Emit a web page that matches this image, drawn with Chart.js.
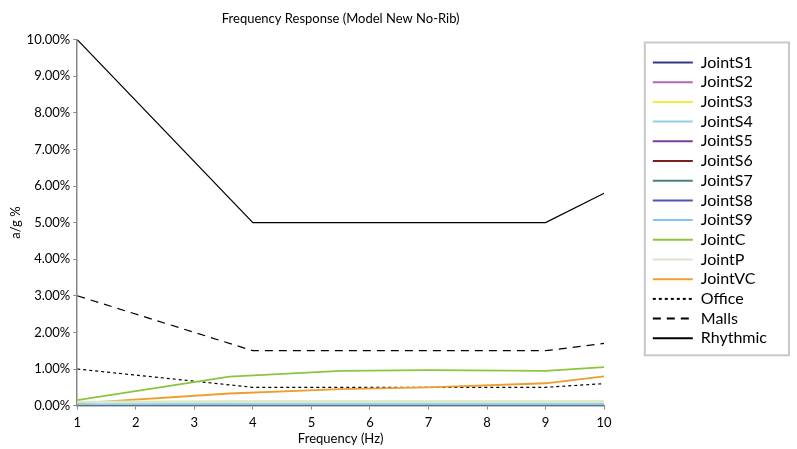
<!DOCTYPE html>
<html>
<head>
<meta charset="utf-8">
<script src="https://cdn.jsdelivr.net/npm/chart.js@4"></script>
<style>
  html, body { margin: 0; padding: 0; background: #fff; }
  #wrap { width: 797px; height: 449px; }
</style>
</head>
<body>
<div id="wrap"><canvas id="freqChart" width="797" height="449"></canvas></div>
<script>
// trend lines (Office / Malls / Rhythmic)
const trendFreq = [1, 4, 9, 10];
const office = [1.0, 0.5, 0.5, 0.6];
const malls = [3.0, 1.5, 1.5, 1.7];
const rhythmic = [10.0, 5.0, 5.0, 5.8];

// joint responses
const jointFreq = [1, 3.6, 5.5, 7, 9, 10];
const jointS1 = [0.0, 0.0, 0.0, 0.0, 0.0, 0.0];
const jointS2 = [0.01, 0.01, 0.01, 0.01, 0.01, 0.01];
const jointS3 = [0.10, 0.11, 0.11, 0.11, 0.11, 0.11];
const jointS4 = [0.04, 0.05, 0.05, 0.05, 0.05, 0.05];
const jointS5 = [0.0, 0.0, 0.0, 0.0, 0.0, 0.0];
const jointS6 = [0.0, 0.0, 0.0, 0.0, 0.0, 0.0];
const jointS7 = [0.01, 0.01, 0.01, 0.01, 0.01, 0.01];
const jointS8 = [0.0, 0.0, 0.0, 0.0, 0.0, 0.0];
const jointS9 = [0.03, 0.03, 0.03, 0.03, 0.03, 0.03];
const jointC = [0.15, 0.79, 0.95, 0.97, 0.95, 1.05];
const jointP = [0.10, 0.11, 0.11, 0.11, 0.11, 0.11];
const jointVC = [0.06, 0.33, 0.45, 0.50, 0.61, 0.80];

const yTicks = [0, 1, 2, 3, 4, 5, 6, 7, 8, 9, 10];

const pts = (xs, ys) => xs.map((x, i) => ({ x, y: ys[i] }));

function series(label, xs, ys, color, width, dash, order) {
  return {
    label,
    data: pts(xs, ys),
    borderColor: color,
    backgroundColor: color,
    borderWidth: width,
    borderDash: dash || [],
    pointRadius: 0,
    tension: 0,
    fill: false,
    order: order || 0
  };
}

// frame around the legend, taken from the legend's own item boxes
const legendFrame = {
  id: 'legendFrame',
  afterDraw(chart) {
    const boxes = chart.legend && chart.legend.legendHitBoxes;
    if (!boxes || !boxes.length) return;
    const left = Math.min(...boxes.map(b => b.left)) - 8;
    const top = Math.min(...boxes.map(b => b.top)) - 12;
    const right = chart.legend.right + 12;
    const bottom = Math.max(...boxes.map(b => b.top + b.height)) + 9;
    const ctx = chart.ctx;
    ctx.save();
    ctx.strokeStyle = '#c8c8c8';
    ctx.lineWidth = 2;
    ctx.strokeRect(left, top, right - left, bottom - top);
    ctx.restore();
  }
};

const ctx = document.getElementById('freqChart').getContext('2d');
new Chart(ctx, {
  type: 'line',
  data: {
    datasets: [
      series('JointS1', jointFreq, jointS1, '#2e3a87', 1.5, null, 2),
      series('JointS2', jointFreq, jointS2, '#b168b4', 1.5, null, 2),
      series('JointS3', jointFreq, jointS3, '#f5ec3c', 1.5, null, 2),
      series('JointS4', jointFreq, jointS4, '#93d0e3', 1.5),
      series('JointS5', jointFreq, jointS5, '#7a3e96', 1.5, null, 2),
      series('JointS6', jointFreq, jointS6, '#7b2020', 1.5, null, 2),
      series('JointS7', jointFreq, jointS7, '#4e8080', 1.5, null, 1),
      series('JointS8', jointFreq, jointS8, '#4a58ad', 1.5, null, 2),
      series('JointS9', jointFreq, jointS9, '#82c6ef', 1.5),
      series('JointC', jointFreq, jointC, '#8cc43f', 1.8),
      series('JointP', jointFreq, jointP, '#d9e8c9', 2.5),
      series('JointVC', jointFreq, jointVC, '#ee9e2c', 1.8),
      series('Office', trendFreq, office, '#000000', 1.2, [3, 3]),
      series('Malls', trendFreq, malls, '#000000', 1.2, [8, 6]),
      series('Rhythmic', trendFreq, rhythmic, '#000000', 1.2)
    ]
  },
  options: {
    responsive: false,
    animation: false,
    layout: { padding: { left: 8, right: 20, top: 0, bottom: 6 } },
    plugins: {
      title: {
        display: true,
        fullSize: false,
        text: 'Frequency Response (Model New No-Rib)',
        color: '#000',
        font: { family: 'Lato', size: 13, weight: 'normal' },
        padding: { top: 11, bottom: 13 }
      },
      legend: {
        position: 'right',
        fullSize: false,
        align: 'start',
        title: { display: true, text: '', font: { size: 1 }, padding: { top: 4, bottom: 6 } },
        labels: {
          usePointStyle: true,
          pointStyle: 'line',
          pointStyleWidth: 40,
          color: '#000',
          font: { family: 'Lato', size: 16 },
          padding: 3.7,
          sort: (a, b) => a.datasetIndex - b.datasetIndex,
          generateLabels: chart => Chart.defaults.plugins.legend.labels.generateLabels(chart).map(item => {
            const ds = chart.data.datasets[item.datasetIndex];
            item.lineDash = ds.borderDash;
            item.lineWidth = 2;
            return item;
          })
        }
      },
      tooltip: { enabled: false }
    },
    scales: {
      x: {
        type: 'linear',
        min: 1,
        max: 10,
        ticks: { stepSize: 1, color: '#000', font: { family: 'Lato', size: 13 }, padding: 5 },
        grid: { drawOnChartArea: false, color: '#888', tickLength: 4 },
        border: { color: '#888', width: 1.5 },
        title: { display: true, text: 'Frequency (Hz)', color: '#000', font: { family: 'Lato', size: 13, lineHeight: 0.6 }, padding: { top: 0, bottom: 0 } }
      },
      y: {
        min: 0,
        max: 10,
        afterBuildTicks: axis => { axis.ticks = yTicks.map(v => ({ value: v })); },
        ticks: {
          color: '#000',
          font: { family: 'Lato', size: 13 },
          padding: 3,
          callback: v => v.toFixed(2) + '%'
        },
        grid: { drawOnChartArea: false, color: '#888', tickLength: 4 },
        border: { color: '#888', width: 1.5 },
        title: { display: true, text: 'a/g %', color: '#000', font: { family: 'Lato', size: 13 }, padding: { top: 0, bottom: 0 } }
      },
      // empty spacer between the plot and the legend
      gap: {
        type: 'linear',
        position: 'right',
        display: true,
        grid: { display: false },
        border: { display: false },
        ticks: { display: false },
        afterFit: scale => { scale.width = 45; }
      }
    }
  },
  plugins: [legendFrame]
});
</script>
</body>
</html>
